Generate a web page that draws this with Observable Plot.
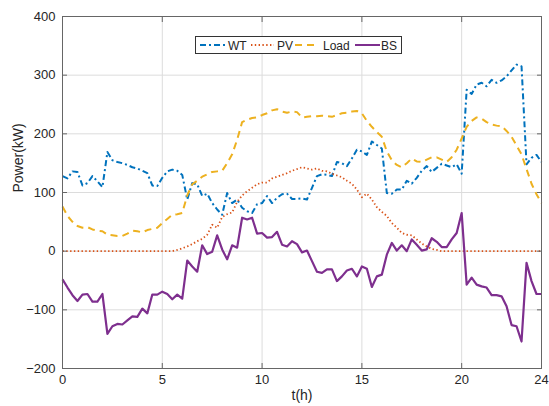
<!DOCTYPE html>
<html>
<head>
<meta charset="utf-8">
<script src="https://cdn.jsdelivr.net/npm/d3@7"></script>
<script src="https://cdn.jsdelivr.net/npm/@observablehq/plot@0.6"></script>
<style>
  html, body { margin: 0; padding: 0; background: #fff; }
  #wrap { position: relative; width: 549px; height: 406px; font-family: "Liberation Sans", Arial, sans-serif; }
  #legend { position: absolute; left: 195px; top: 36px; }
</style>
</head>
<body>
<div id="wrap"><div id="chart"></div><div id="legend"></div></div>
<script>
// time grid: 15-minute steps, 0..24 h
const hours = d3.range(0, 24.001, 0.25);
const xTicks = [0, 5, 10, 15, 20, 24];
const yTicks = [-200, -100, 0, 100, 200, 300, 400];
const seriesNames = ["WT", "PV", "Load", "BS"];
const seriesColors = ["#0072BD", "#D95319", "#EDB120", "#7E2F8E"];
const seriesDash = ["6,3,2,3", "1.4,2.4", "7,5", null];

const WT = [128,124,136,135,112,116,128,119,109,169,155,152,150,147,143,141,137,133,112,111,125,136,139,137,
  130,88,116,114,94,98,82,71,62,99,82,88,74,68,65,80,82,94,82,91,97,98,89,89,
  90,88,108,128,131,130,128,152,150,145,158,173,170,164,187,181,175,99,98,105,105,120,115,125,
  137,145,135,142,149,146,143,148,132,275,268,284,287,281,292,287,291,298,308,318,315,148,159,164,152];
const PV = [0,0,0,0,0,0,0,0,0,0,0,0,0,0,0,0,0,0,0,0,0,0,0,2,
  5,8,12,17,21,28,45,40,58,63,66,84,95,102,108,114,117,117,124,127,130,133,137,140,
  143,141,139,141,137,136,132,129,126,120,115,105,92,98,88,75,67,60,48,40,31,28,27,20,
  13,8,4,2,0,0,0,0,0,0,0,0,0,0,0,0,0,0,0,0,0,0,0,0,0];
const Load = [76,60,50,43,40,41,37,35,34,28,27,26,26,30,35,34,32,36,38,40,48,55,62,63,
  65,95,114,120,127,131,135,136,137,150,165,190,220,224,227,228,232,235,240,242,238,236,238,237,
  228,229,230,230,231,230,229,232,235,236,238,239,235,222,212,203,195,170,155,147,143,150,158,153,
  152,156,160,160,156,152,160,173,192,212,222,228,226,220,216,214,213,205,195,180,165,140,115,97,82];
const BS = [-48,-62,-75,-85,-74,-73,-86,-86,-73,-141,-128,-124,-125,-118,-111,-112,-98,-106,-74,-74,-69,-73,-82,-74,
  -81,-16,-26,-35,10,-5,-1,27,3,-14,10,6,57,54,57,30,31,23,24,33,11,8,17,12,
  -2,1,-17,-35,-37,-31,-31,-51,-43,-33,-30,-43,-26,-30,-61,-43,-40,-6,14,1,10,0,20,11,
  1,3,22,16,7,7,20,31,65,-57,-45,-57,-60,-62,-75,-75,-77,-94,-126,-128,-154,-20,-51,-73,-73];

const seriesValues = [WT, PV, Load, BS];
const rows = [];
seriesNames.forEach((name, si) => {
  hours.forEach((t, i) => rows.push({series: name, t, v: seriesValues[si][i]}));
});

const lineMarks = seriesNames.map((name, si) =>
  Plot.line(rows.filter(d => d.series === name), {
    x: "t", y: "v",
    stroke: seriesColors[si],
    strokeWidth: si === 3 ? 2.2 : (si === 1 ? 1.8 : 2),
    strokeDasharray: seriesDash[si],
    strokeLinecap: "butt",
    curve: "linear"
  })
);

const chart = Plot.plot({
  width: 549,
  height: 406,
  marginLeft: 62,
  marginRight: 8,
  marginTop: 16,
  marginBottom: 38,
  style: {fontFamily: "'Liberation Sans', Arial, sans-serif", fontSize: "13px", color: "#262626", background: "#fff"},
  x: {domain: [0, 24]},
  y: {domain: [-200, 400]},
  marks: [
    Plot.gridX(xTicks, {stroke: "#dcdcdc", strokeOpacity: 1}),
    Plot.gridY(yTicks, {stroke: "#dcdcdc", strokeOpacity: 1}),
    ...lineMarks,
    Plot.frame({stroke: "#666", strokeWidth: 1}),
    Plot.axisX(xTicks, {anchor: "bottom", tickSize: -5, tickPadding: 11, stroke: "#666", fill: "#262626", label: null}),
    Plot.axisX(xTicks, {anchor: "top", tickSize: -5, text: null, stroke: "#666", label: null}),
    Plot.axisY(yTicks, {anchor: "left", tickSize: -5, tickPadding: 12, stroke: "#666", fill: "#262626", label: null}),
    Plot.axisY(yTicks, {anchor: "right", tickSize: -5, text: null, stroke: "#666", label: null}),
    Plot.text(["t(h)"], {frameAnchor: "bottom", dy: 31, fontSize: 14, fill: "#262626"}),
    Plot.text(["Power(kW)"], {frameAnchor: "left", dx: -44, rotate: -90, fontSize: 14, fill: "#262626"})
  ]
});
document.getElementById("chart").appendChild(chart);

// legend box
const lg = d3.select("#legend").append("svg").attr("width", 207).attr("height", 18)
  .style("font-family", "'Liberation Sans', Arial, sans-serif");
lg.append("rect").attr("x", 0.5).attr("y", 0.5).attr("width", 206).attr("height", 17)
  .attr("fill", "#fff").attr("stroke", "#333").attr("stroke-width", 1);
const legendItems = [
  {x0: 5, x1: 32, tx: 33},
  {x0: 56, x1: 79, tx: 82},
  {x0: 100, x1: 119, tx: 128},
  {x0: 160, x1: 185, tx: 186}
];
legendItems.forEach((it, i) => {
  lg.append("line").attr("x1", it.x0).attr("x2", it.x1).attr("y1", 9).attr("y2", 9)
    .attr("stroke", seriesColors[i]).attr("stroke-width", i === 1 ? 1.8 : 2)
    .attr("stroke-dasharray", seriesDash[i]);
  lg.append("text").attr("x", it.tx).attr("y", 13.5).attr("font-size", 12).attr("fill", "#262626")
    .text(seriesNames[i]);
});
</script>
</body>
</html>
